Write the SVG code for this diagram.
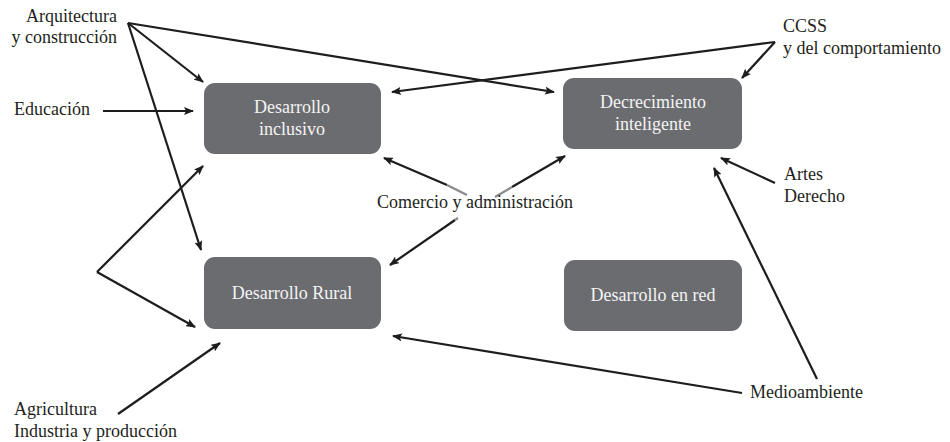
<svg xmlns="http://www.w3.org/2000/svg" width="950" height="442" viewBox="0 0 950 442">
<style>
.box{fill:#6b6c70;}
.bt{font-family:'Liberation Serif','DejaVu Serif',serif;font-size:18px;fill:#f4f4f4;text-anchor:middle;}
.lb{font-family:'Liberation Serif','DejaVu Serif',serif;font-size:18px;fill:#231f20;}
.c{stroke:#1e1c1d;stroke-width:2.2;fill:none;}
.a{marker-end:url(#ah);}
.g{stroke:#8a8a8c;stroke-width:2.2;fill:none;}
</style>
<defs>
<marker id="ah" viewBox="0 0 10 8" refX="9" refY="4" markerWidth="10" markerHeight="8" markerUnits="userSpaceOnUse" orient="auto">
<path d="M0,0 L10,4 L0,8 L2,4 z" fill="#1e1c1d"/>
</marker>
</defs>
<rect width="950" height="442" fill="#ffffff"/>

<g id="connectors">
<path class="c a" d="M128,23 L203,82"/>
<path class="c a" d="M128,23 L201,250"/>
<path class="c a" d="M128,23 L554,92"/>
<path class="c a" d="M103,111 L193,111"/>
<path class="c a" d="M775,42 L392,92"/>
<path class="c a" d="M775,42 L742,78"/>
<path class="c a" d="M447,185 L384,158"/>
<path class="g" d="M467,195 L447,185"/>
<path class="c a" d="M512,187 L565,156"/>
<path class="g" d="M495,197 L512,187"/>
<path class="c a" d="M455,220 L390,265"/>
<path class="g" d="M458,218 L455,220"/>
<path class="c a" d="M97,272 L203,166"/>
<path class="c a" d="M97,272 L195,327"/>
<path class="c a" d="M118,414 L220,343"/>
<path class="c a" d="M742,393 L393,336"/>
<path class="c a" d="M817,379 L714,168"/>
<path class="c a" d="M775,183 L721,158"/>
</g>

<g id="n-inclusivo">
<rect class="box" x="204" y="83" width="177" height="71" rx="11"/>
<text class="bt" x="292" y="113">Desarrollo</text>
<text class="bt" x="292" y="135">inclusivo</text>
</g>
<g id="n-decrecimiento">
<rect class="box" x="563" y="78" width="179" height="71" rx="11"/>
<text class="bt" x="653" y="108">Decrecimiento</text>
<text class="bt" x="653" y="130">inteligente</text>
</g>
<g id="n-rural">
<rect class="box" x="204" y="257" width="177" height="72" rx="11"/>
<text class="bt" x="292" y="299">Desarrollo Rural</text>
</g>
<g id="n-red">
<rect class="box" x="564" y="260" width="178" height="71" rx="11"/>
<text class="bt" x="653" y="301">Desarrollo en red</text>
</g>

<g id="n-arquitectura">
<text class="lb" x="117" y="22" text-anchor="end">Arquitectura</text>
<text class="lb" x="117" y="43" text-anchor="end">y construcción</text>
</g>
<g id="n-educacion">
<text class="lb" x="14" y="115">Educación</text>
</g>
<g id="n-ccss">
<text class="lb" x="783" y="32">CCSS</text>
<text class="lb" x="783" y="54">y del comportamiento</text>
</g>
<g id="n-comercio">
<text class="lb" x="377" y="208">Comercio y administración</text>
</g>
<g id="n-artes">
<text class="lb" x="784" y="180">Artes</text>
<text class="lb" x="784" y="202">Derecho</text>
</g>
<g id="n-agricultura">
<text class="lb" x="14" y="415">Agricultura</text>
<text class="lb" x="14" y="437">Industria y producción</text>
</g>
<g id="n-medioambiente">
<text class="lb" x="750" y="398">Medioambiente</text>
</g>
</svg>
